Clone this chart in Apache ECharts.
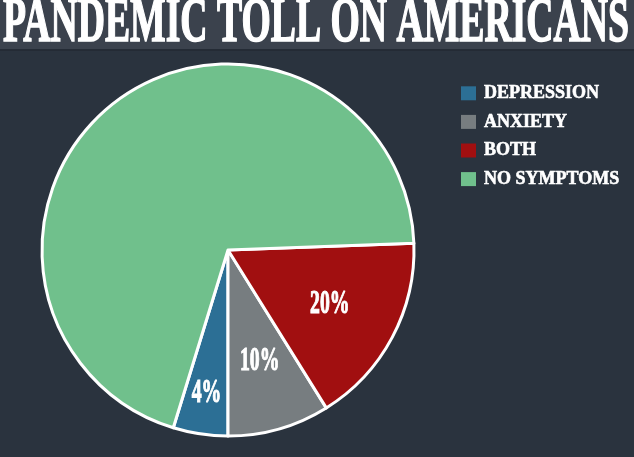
<!DOCTYPE html>
<html>
<head>
<meta charset="utf-8">
<script src="https://cdn.jsdelivr.net/npm/echarts@6/dist/echarts.min.js"></script>
<style>
html,body{margin:0;padding:0;background:#2a333e;}
#c{width:634px;height:457px;}
</style>
</head>
<body>
<div id="c"></div>
<script>
// ---- data ----
var titleText = 'PANDEMIC TOLL ON AMERICANS';
var categories = ['DEPRESSION', 'ANXIETY', 'BOTH', 'NO SYMPTOMS'];
// slice shares as drawn in the picture (percent of the circle)
var sliceValues = [4.75, 8.86, 16.72, 69.67];
// printed slice labels
var sliceLabels = ['4%', '10%', '20%', ''];
var sliceColors = ['#2c6f95', '#777d80', '#a10f10', '#70c08c'];

var chart = echarts.init(document.getElementById('c'), null, {renderer: 'canvas'});

function measure(text, font) {
  var cv = document.createElement('canvas').getContext('2d');
  cv.font = font;
  return cv.measureText(text).width;
}

var titleFont = 'bold 63px "Liberation Serif"';
var titleScale = 626 / measure(titleText, titleFont);

var option = {
  backgroundColor: '#2a333e',
  animation: false,
  legend: {
    orient: 'vertical',
    left: 461,
    top: 84,
    padding: 0,
    itemWidth: 15,
    itemHeight: 14,
    itemGap: 10,
    icon: 'rect',
    data: categories,
    itemStyle: {borderWidth: 0},
    textStyle: {
      color: '#ffffff',
      fontFamily: 'Liberation Serif',
      fontWeight: 'bold',
      fontSize: 18,
      textBorderColor: '#ffffff',
      textBorderWidth: 0.6,
      padding: [0, 0, 0, 3]
    }
  },
  series: [{
    type: 'pie',
    center: [228, 250],
    radius: 186,
    startAngle: 252.9,
    clockwise: false,
    silent: true,
    label: {show: false},
    labelLine: {show: false},
    itemStyle: {borderColor: '#ffffff', borderWidth: 3},
    data: categories.map(function (c, i) {
      return {name: c, value: sliceValues[i], itemStyle: {color: sliceColors[i]}};
    })
  }],
  graphic: [
    {type: 'rect', z: -10, shape: {x: 0, y: 0, width: 634, height: 49}, style: {fill: '#3b424d'}},
    {type: 'rect', z: -10, shape: {x: 0, y: 49, width: 634, height: 2}, style: {fill: '#242b35'}},
    {
      type: 'text', x: 3, y: 25, scaleX: titleScale, scaleY: 1,
      style: {
        text: titleText, font: titleFont, fill: '#ffffff',
        stroke: '#ffffff', lineWidth: 1.6,
        align: 'left', verticalAlign: 'middle',
        shadowColor: 'rgba(0,0,0,0.6)', shadowBlur: 2, shadowOffsetX: 1, shadowOffsetY: 1
      }
    }
  ]
};
chart.setOption(option);

// place slice labels from the library's own pie layout
var labelRadiusFactor = [0.78, 0.62, 0.62, 0.6];
var data = chart.getModel().getSeriesByIndex(0).getData();
var labelEls = [];
for (var i = 0; i < categories.length; i++) {
  if (!sliceLabels[i]) continue;
  var L = data.getItemLayout(i);
  var mid = (L.startAngle + L.endAngle) / 2;
  var rr = L.r * labelRadiusFactor[i];
  labelEls.push({
    type: 'text',
    x: L.cx + rr * Math.cos(mid),
    y: L.cy + rr * Math.sin(mid),
    scaleX: 0.58,
    z: 100,
    style: {
      text: sliceLabels[i],
      font: 'bold 34px "Liberation Serif"',
      fill: '#ffffff',
      stroke: '#ffffff',
      lineWidth: 1.2,
      align: 'center',
      verticalAlign: 'middle'
    }
  });
}
chart.setOption({graphic: option.graphic.concat(labelEls)});
</script>
</body>
</html>
